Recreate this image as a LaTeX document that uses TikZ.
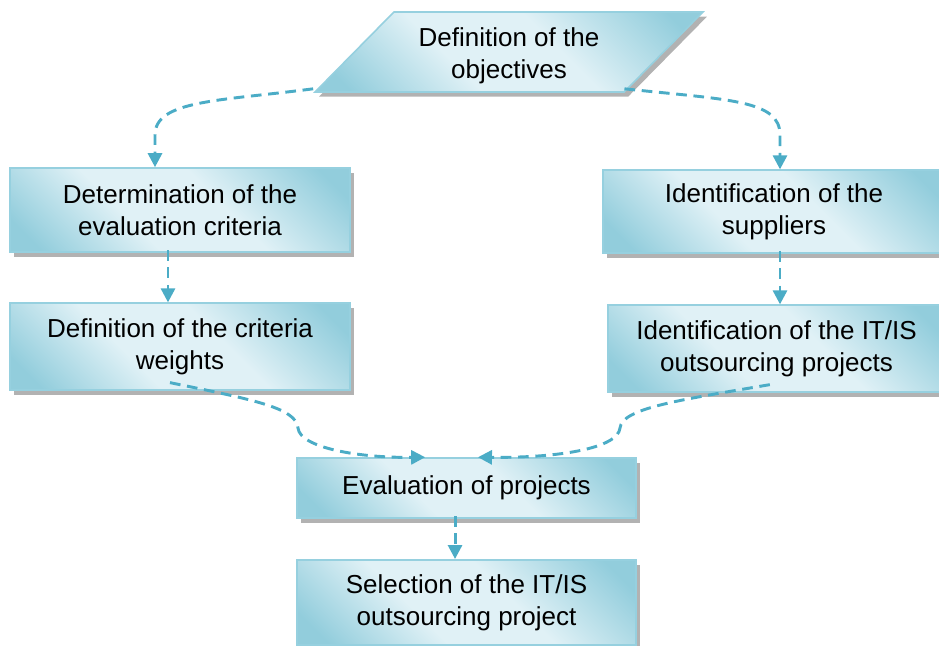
\documentclass[tikz,border=0pt]{standalone}
\usepackage{fontspec}
\setmainfont{Liberation Sans}
\usetikzlibrary{shapes.geometric,shadows,arrows.meta}

\definecolor{boxlight}{RGB}{224,241,246}
\definecolor{boxdark}{RGB}{146,205,220}
\definecolor{boxline}{RGB}{150,208,223}
\definecolor{flowline}{RGB}{75,172,198}

\pgfdeclareverticalshading{boxshade}{100bp}{color(0bp)=(boxdark); color(20bp)=(boxdark);
  color(40bp)=(boxlight); color(58bp)=(boxlight); color(80bp)=(boxdark); color(100bp)=(boxdark)}

\tikzset{
  stepbox/.style={rectangle, draw=boxline, line width=1.2pt,
    shading=boxshade, shading angle=-45,
    drop shadow={shadow xshift=3pt, shadow yshift=-3.5pt, fill=gray!60, opacity=1},
    align=center, inner sep=0pt, font=\fontsize{19.5}{24}\selectfont},
  goalbox/.style={stepbox, trapezium, trapezium stretches=true,
    trapezium left angle=46, trapezium right angle=134},
  flow/.style={draw=flowline, line width=2.2pt, dash pattern=on 8pt off 5pt,
    -{Triangle[length=10.5pt,width=10.5pt]}}
}

\begin{document}
\begin{tikzpicture}[x=0.75pt,y=0.75pt,yscale=-1,xscale=1]
        \useasboundingbox (0,0) rectangle (939,646);

        % Shape: Parallelogram
        \draw (509,52) node [goalbox, minimum width=291pt, minimum height=60pt] (obj) {\rule{0pt}{20pt}Definition of the\\objectives};
        % Shape: Rectangle
        \draw (180,210) node [stepbox, minimum width=255pt, minimum height=63pt] (crit) {Determination of the\\evaluation criteria};
        % Shape: Rectangle
        \draw (180,346.5) node [stepbox, minimum width=255pt, minimum height=65pt] (wts) {Definition of the criteria\\weights};
        % Shape: Rectangle
        \draw (774,211.5) node [stepbox, minimum width=256.5pt, minimum height=62pt] (supp) {Identification of the\\suppliers};
        % Shape: Rectangle
        \draw (776.5,348.5) node [stepbox, minimum width=253pt, minimum height=65pt] (proj) {Identification of the IT/IS\\outsourcing projects};
        % Shape: Rectangle
        \draw (466.5,488) node [stepbox, minimum width=254pt, minimum height=45pt] (eval) {Evaluation of projects};
        % Shape: Rectangle
        \draw (466.5,602.5) node [stepbox, minimum width=254pt, minimum height=64pt] (sel) {Selection of the IT/IS\\outsourcing project};

        %Curve Lines
        \draw [flow] ([yshift=-3pt]obj.bottom left corner) .. controls (220,101) and (155,100) .. (155,135) -- ([xshift=-18.75pt]crit.north);
        %Curve Lines
        \draw [flow] ([yshift=-3pt]obj.bottom right corner) .. controls (730,100) and (780,100) .. (780,135) -- ([xshift=4.5pt]supp.north);
        %Straight Lines
        \draw [flow] ([xshift=-9pt,yshift=-2pt]crit.south) -- ([xshift=-9pt]wts.north);
        %Straight Lines
        \draw [flow] ([xshift=4.5pt,yshift=-2pt]supp.south) -- ([xshift=4.5pt]supp.south |- proj.north);
        %Curve Lines
        \draw [flow] ([xshift=-7.5pt,yshift=-6pt]wts.south) .. controls (255,400) and (296,408) .. (298,428) .. controls (300,448) and (360,458) .. ([xshift=-31pt]eval.north);
        %Curve Lines
        \draw [flow] ([xshift=-5pt,yshift=-6pt]proj.south) .. controls (680,400) and (622,408) .. (620,428) .. controls (618,448) and (560,458) .. ([xshift=8.6pt]eval.north);
        %Straight Lines
        \draw [flow] ([xshift=-8.6pt,yshift=-2pt]eval.south) -- ([xshift=-8.6pt]sel.north);

\end{tikzpicture}
\end{document}
